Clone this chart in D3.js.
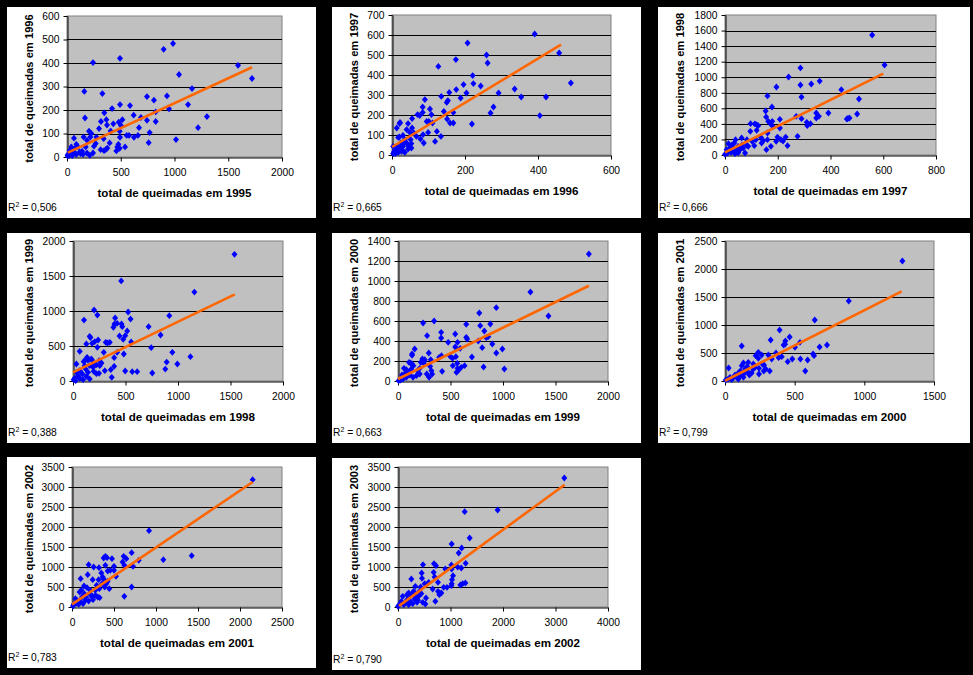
<!DOCTYPE html>
<html><head><meta charset="utf-8">
<script src="https://cdn.jsdelivr.net/npm/d3@7"></script>
<style>
html,body{margin:0;padding:0;background:#000;}
svg{display:block;}
text{font-family:"Liberation Sans",Arial,sans-serif;}
</style></head>
<body>
<svg id="c" width="973" height="675"></svg>
<script>
// ---------------- DATA ----------------
const years = [1995,1996,1997,1998,1999,2000,2001,2002,2003];
const r2Labels = ["0,506","0,665","0,666","0,388","0,663","0,799","0,783","0,790"];

const xTicks1 = [0,500,1000,1500,2000],   yTicks1 = [0,100,200,300,400,500,600];
const xTicks2 = [0,200,400,600],          yTicks2 = [0,100,200,300,400,500,600,700];
const xTicks3 = [0,200,400,600,800],      yTicks3 = [0,200,400,600,800,1000,1200,1400,1600,1800];
const xTicks4 = [0,500,1000,1500,2000],   yTicks4 = [0,500,1000,1500,2000];
const xTicks5 = [0,500,1000,1500,2000],   yTicks5 = [0,200,400,600,800,1000,1200,1400];
const xTicks6 = [0,500,1000,1500],        yTicks6 = [0,500,1000,1500,2000,2500];
const xTicks7 = [0,500,1000,1500,2000,2500], yTicks7 = [0,500,1000,1500,2000,2500,3000,3500];
const xTicks8 = [0,1000,2000,3000,4000],  yTicks8 = [0,500,1000,1500,2000,2500,3000,3500];

// trend lines: [intercept, slope] and x-range
const trend1 = [17, 0.212], trend2 = [40, 1.106], trend3 = [34, 1.687], trend4 = [124, 0.723];
const trend5 = [20, 0.513], trend6 = [5, 1.258], trend7 = [67, 1.422], trend8 = [10, 0.96];
const trendRange1 = [8,1721], trendRange2 = [0,463], trendRange3 = [0,600], trendRange4 = [0,1541];
const trendRange5 = [0,1818], trendRange6 = [0,1268], trendRange7 = [0,2151], trendRange8 = [20,3175];

const q95_96 = [[242,402],[493,420],[899,458],[986,483],[1042,351],[1591,390],[1721,334],[1163,291],[1126,223],[1219,125],
[1302,172],[1014,74],[949,205],[930,260],[809,242],[744,257],[825,192],[825,151],[744,156],[769,104],[760,61],[688,168],
[670,125],[660,92],[620,178],[623,84],[586,219],[577,92],[555,92],[515,159],[502,134],[493,223],[493,84],[481,148],
[490,110],[478,54],[468,43],[490,37],[459,26],[419,206],[431,141],[406,111],[397,60],[375,38],[366,159],[372,136],
[347,188],[329,270],[316,151],[298,121],[341,78],[344,27],[313,31],[273,85],[251,46],[242,17],[161,279],[167,166],
[205,110],[217,85],[155,85],[186,71],[174,43],[186,17],[127,14],[65,80],[87,54],[40,43],[25,28],[9,11],[40,11],[62,21],
[87,11],[118,21],[149,11],[19,6],[50,6],[226,100],[267,57],[211,7],[360,31],[540,43],[5,5],[71,36],[102,43],[30,20],[140,25]];

const q96_97 = [[391,605],[458,510],[490,360],[336,330],[354,290],[422,290],[405,197],[292,310],[278,240],[270,210],[243,345],
[262,460],[259,500],[207,560],[221,397],[223,357],[196,352],[204,310],[188,285],[175,477],[176,327],[219,155],[127,443],
[157,313],[153,272],[150,263],[135,293],[142,218],[151,180],[168,213],[159,160],[168,160],[134,93],[118,68],[123,118],
[111,160],[101,168],[104,230],[108,202],[90,277],[84,240],[84,213],[76,197],[70,202],[95,168],[99,113],[85,102],[87,60],
[78,80],[67,93],[55,182],[55,135],[49,113],[44,157],[40,127],[22,163],[21,157],[13,135],[17,88],[20,90],[30,98],[35,77],
[40,60],[51,77],[53,35],[53,57],[44,30],[30,43],[21,35],[12,27],[6,18],[3,7],[9,7],[17,13],[26,18],[35,13],[3,43],[15,43],
[24,60],[45,45],[60,110],[32,55],[28,25]];

const q97_98 = [[558,1543],[605,1157],[508,720],[501,527],[441,840],[472,476],[462,463],[466,470],[392,540],[359,951],[327,913],
[286,1119],[286,900],[290,746],[241,1003],[195,874],[161,759],[154,566],[178,617],[156,489],[164,433],[172,403],[208,459],
[181,369],[208,347],[270,497],[290,467],[310,420],[324,403],[312,377],[346,540],[356,497],[346,476],[275,240],[237,120],
[230,231],[212,197],[199,231],[194,176],[174,111],[157,69],[161,197],[161,283],[145,184],[136,227],[120,390],[113,399],
[126,377],[120,317],[97,403],[96,304],[103,176],[111,120],[83,197],[83,124],[76,26],[63,219],[50,111],[40,197],[35,154],
[28,90],[13,146],[6,69],[10,26],[23,34],[38,17],[0,9],[16,77],[44,60],[57,69],[69,90],[88,111],[117,197],[139,154],
[25,124],[220,180],[179,433],[30,50],[50,30],[65,130]];

const q98_99 = [[1538,1810],[1156,1271],[459,1429],[525,986],[548,886],[401,900],[201,1014],[105,871],[232,943],[395,814],
[420,824],[462,814],[385,767],[469,776],[720,776],[917,933],[834,657],[516,714],[497,648],[443,643],[478,595],[554,557],
[159,638],[166,620],[182,538],[239,586],[207,562],[312,552],[328,543],[350,552],[127,529],[64,424],[232,481],[293,410],
[484,386],[420,410],[392,333],[392,210],[360,162],[369,52],[497,143],[564,133],[611,133],[745,476],[755,114],[946,410],
[892,271],[879,171],[994,243],[1118,348],[303,148],[271,257],[248,290],[223,229],[201,243],[175,314],[134,338],[102,276],
[111,219],[143,124],[127,67],[223,105],[248,110],[197,138],[48,76],[32,243],[32,124],[64,148],[16,38],[6,19],[64,38],
[89,100],[159,219],[191,195],[121,171],[25,5],[255,219],[159,29],[96,19],[140,300],[110,290],[150,310],[180,300]];

const q99_00 = [[1818,1270],[1261,890],[1433,650],[936,733],[774,680],[879,570],[783,553],[822,500],[860,443],[898,370],
[802,333],[994,320],[936,280],[815,140],[1013,120],[764,400],[841,433],[650,567],[650,437],[659,420],[704,240],[634,153],
[602,137],[573,103],[564,177],[551,243],[567,387],[545,470],[545,340],[592,327],[522,153],[519,227],[497,247],[478,387],
[411,487],[411,430],[420,97],[392,237],[414,253],[344,600],[239,580],[277,453],[159,320],[134,270],[134,257],[105,187],
[134,170],[146,153],[57,127],[80,113],[102,87],[232,220],[255,213],[245,180],[217,187],[293,280],[312,213],[306,147],
[318,103],[325,70],[296,37],[274,70],[207,70],[175,53],[143,37],[111,60],[80,37],[48,20],[25,10],[64,70],[38,60],
[127,120],[207,127],[185,103],[557,87],[567,127],[6,3],[250,200],[120,180]];

const q00_01 = [[1273,2143],[888,1429],[644,1089],[392,911],[328,732],[464,786],[433,714],[431,655],[421,643],[538,690],
[502,601],[679,607],[732,643],[632,482],[639,452],[593,375],[483,393],[450,345],[576,179],[321,179],[366,500],[311,464],
[385,417],[407,435],[335,393],[239,512],[239,405],[220,452],[263,464],[270,298],[278,179],[244,226],[244,125],[215,244],
[203,304],[167,333],[120,625],[132,321],[120,274],[144,214],[175,107],[167,155],[96,143],[72,107],[26,232],[60,65],
[84,65],[36,65],[24,36],[5,18],[48,24],[108,95],[132,125],[148,155],[191,143],[203,214],[292,214],[96,36],[132,65],
[280,286],[541,393],[160,260],[110,180]];

const q01_02 = [[2151,3183],[917,1908],[1425,1283],[1087,1183],[710,1358],[615,1267],[647,1208],[603,1125],[726,1017],
[623,1042],[794,1167],[710,500],[623,267],[524,767],[500,1017],[500,917],[476,1208],[417,1233],[397,1267],[377,1225],
[397,1042],[425,900],[456,917],[444,458],[349,850],[365,750],[377,700],[389,500],[409,583],[321,983],[258,1000],[198,1058],
[187,808],[246,683],[103,708],[143,525],[91,375],[317,683],[325,458],[306,250],[329,233],[278,292],[238,250],[210,333],
[179,483],[167,250],[159,167],[119,250],[99,125],[60,167],[40,208],[52,100],[20,67],[79,67],[131,83],[198,150],[250,183],
[218,417],[278,417],[294,542],[425,642],[357,583],[12,25],[147,333],[111,417],[230,300]];

const q02_03 = [[3168,3225],[1898,2425],[1270,2383],[1365,1725],[1022,1575],[1213,1475],[1156,1350],[1289,1092],[1137,1000],
[1206,975],[1016,1050],[1022,950],[1048,783],[1029,683],[1022,583],[1016,533],[1187,550],[1232,583],[1283,600],[902,950],
[933,492],[870,492],[825,350],[787,308],[762,392],[686,1083],[724,1033],[679,867],[698,750],[762,617],[711,142],[476,1058],
[451,850],[457,717],[508,583],[584,617],[432,500],[533,225],[521,75],[470,117],[444,333],[254,700],[330,517],[279,350],
[343,267],[381,167],[318,200],[235,267],[203,350],[171,183],[140,100],[89,267],[63,142],[25,58],[108,58],[203,58],[279,83],
[362,117],[394,267],[235,142],[171,308],[298,392],[406,392],[0,17],[660,450]];

// ---------------- LAYOUT ----------------
const panels = [
  {data:q95_96, xt:xTicks1, yt:yTicks1, tr:trend1, rg:trendRange1, box:[7,7,316,218],   plot:[67,16,282,157]},
  {data:q96_97, xt:xTicks2, yt:yTicks2, tr:trend2, rg:trendRange2, box:[332,7,641,218], plot:[392,15,611,155]},
  {data:q97_98, xt:xTicks3, yt:yTicks3, tr:trend3, rg:trendRange3, box:[658,7,970,218], plot:[725,15,936,155]},
  {data:q98_99, xt:xTicks4, yt:yTicks4, tr:trend4, rg:trendRange4, box:[7,233,316,443], plot:[73,241,283,381]},
  {data:q99_00, xt:xTicks5, yt:yTicks5, tr:trend5, rg:trendRange5, box:[332,233,641,443], plot:[398,241,608,381]},
  {data:q00_01, xt:xTicks6, yt:yTicks6, tr:trend6, rg:trendRange6, box:[658,233,970,443], plot:[725,241,934,381]},
  {data:q01_02, xt:xTicks7, yt:yTicks7, tr:trend7, rg:trendRange7, box:[7,457,316,668], plot:[72,467,282,607]},
  {data:q02_03, xt:xTicks8, yt:yTicks8, tr:trend8, rg:trendRange8, box:[332,458,641,670], plot:[398,467,608,607]}
];

const svg = d3.select("#c");
svg.append("rect").attr("width",973).attr("height",675).attr("fill","#000");

panels.forEach((p,i)=>{
  const [bx0,by0,bx1,by1] = p.box;
  const [px0,py0,px1,py1] = p.plot;
  const g = svg.append("g");
  g.append("rect").attr("x",bx0).attr("y",by0).attr("width",bx1-bx0).attr("height",by1-by0).attr("fill","#fff");

  const x = d3.scaleLinear().domain([p.xt[0], p.xt[p.xt.length-1]]).range([px0,px1]);
  const y = d3.scaleLinear().domain([p.yt[0], p.yt[p.yt.length-1]]).range([py1,py0]);

  g.append("rect").attr("x",px0).attr("y",py0).attr("width",px1-px0).attr("height",py1-py0)
    .attr("fill","#c0c0c0").attr("stroke","#808080").attr("stroke-width",1);

  // gridlines
  g.append("g").selectAll("line").data(p.yt.slice(1, -1)).join("line")
    .attr("x1",px0).attr("x2",px1).attr("y1",d=>Math.round(y(d))+0.5).attr("y2",d=>Math.round(y(d))+0.5)
    .attr("stroke","#000").attr("stroke-width",1);

  // axes
  const ya = g.append("g").attr("transform",`translate(${px0+0.5},0)`)
    .call(d3.axisLeft(y).tickValues(p.yt).tickSizeInner(4).tickSizeOuter(0).tickPadding(4).tickFormat(d3.format("d")));
  const xa = g.append("g").attr("transform",`translate(0,${py1+0.5})`)
    .call(d3.axisBottom(x).tickValues(p.xt).tickSizeInner(4).tickSizeOuter(0).tickPadding(7).tickFormat(d3.format("d")));
  [ya,xa].forEach(a=>{
    a.selectAll("path,line").attr("stroke","#000").attr("stroke-width",1);
    a.selectAll("text").attr("font-size",10.3).attr("fill","#000").attr("font-family","Liberation Sans, Arial, sans-serif");
  });

  // points
  const diamond = (cx,cy)=>`M${cx},${cy-3.4}L${cx+3},${cy}L${cx},${cy+3.4}L${cx-3},${cy}Z`;
  g.append("g").selectAll("path").data(p.data).join("path")
    .attr("d",d=>diamond(x(d[0]),y(d[1]))).attr("fill","#0000ff");
  // trend line
  const line = d3.line().x(d=>x(d)).y(d=>y(p.tr[0]+p.tr[1]*d));
  g.append("path").datum(p.rg).attr("d",line)
    .attr("stroke","#ff6600").attr("stroke-width",2.6).attr("fill","none");

  // titles
  g.append("text").attr("x",(px0+px1)/2).attr("y",py1+40).attr("text-anchor","middle")
    .attr("font-size",11.6).attr("font-weight","bold").text(`total de queimadas em ${years[i]}`);
  g.append("text").attr("transform",`translate(${bx0+26},${(py0+py1)/2+2}) rotate(-90)`).attr("text-anchor","middle")
    .attr("font-size",11.2).attr("font-weight","bold").text(`total de queimadas em ${years[i+1]}`);
  const r = g.append("text").attr("x",bx0+1).attr("y",by1-7).attr("font-size",10.3);
  r.append("tspan").text("R");
  r.append("tspan").attr("font-size",7).attr("dy",-4).text("2");
  r.append("tspan").attr("dy",4).text(" = " + r2Labels[i]);
});
</script>
</body></html>
